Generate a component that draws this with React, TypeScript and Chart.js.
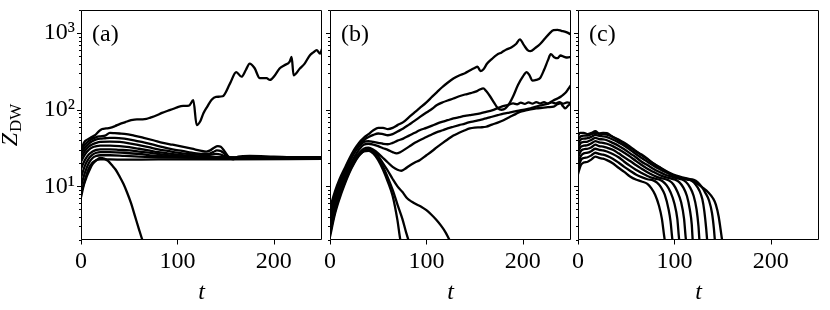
import React, { useEffect, useRef } from "react";
import { Chart, registerables } from "chart.js";
Chart.register(...registerables);

type P = [number, number];

const FONT = "'Liberation Serif', 'Times New Roman', serif";

// ---------- axis ticks ----------
const X_TICKS = [0, 100, 200];
const Y_MAJOR = [10, 100, 1000];
const Y_MINOR = [2, 3, 4, 5, 6, 7, 8, 9, 20, 30, 40, 50, 60, 70, 80, 90, 200, 300, 400, 500, 600, 700, 800, 900, 2000];
const Y_LABELS: Record<number, string> = { 10: "10¹", 100: "10²", 1000: "10³" };
const PANEL_LABELS = ["(a)", "(b)", "(c)"];

// ---------- panel (a) ----------
const aRise: P[] = [[0,28],[3,37],[7,41],[11,44],[15,47],[19,53],[22,56],[26,57],[30,58],[35,61],[40,65],[46,69],[52,73],[58,75],[64,75],[68,76],[72,79],[78,84],[84,91],[90,97],[96,103],[101,109],[106,112],[112,113],[116.5,133],[120,63],[124,72],[127,90],[131,110],[135.5,135],[140,147],[147,150],[154.5,219],[161,310],[166.5,270],[171,330],[175,400],[180,350],[185.5,258],[192.5,258],[196,245],[201,280],[206,345],[211,380],[216.5,425],[218.5,490],[220.5,282],[227,345],[232,400],[237.5,515],[241,560],[244.5,600],[248,540],[250,620]];
const aFall: P[] = [[0,7.2],[3,10.5],[6,13.5],[9,16.5],[12,19.5],[16,22],[20,23.5],[24,23],[28,21.5],[32,19],[36,16.5],[40,13.5],[44,10.8],[48,8.2],[52,6],[56,4.1],[60,2.8],[64,1.95],[66,1.7]];
const aL1: P[] = [[0,30],[4,35],[8,39],[12,42],[16,44],[20,45],[25,46],[30,50],[35,49.5],[40,49],[45,48.5],[55,46],[65,43],[75,40],[85,37],[95,35],[105,33],[115,31],[125,29],[130,28.5],[134,29.5],[138,32],[142,33.5],[145,33],[149,28.5],[153,24.5],[158,22.5],[163,24.5],[175,25],[200,24.5],[225,24],[250,24]];
const aL2: P[] = [[0,27],[4,32],[8,36],[12,39],[16,41],[20,42],[25,42.5],[30,43],[35,43],[45,42],[55,40],[65,37.5],[75,35],[85,32.5],[95,30.5],[105,29],[115,27.5],[125,26.5],[132,26.5],[137,28],[141,29.5],[145,29],[149,26.5],[153,24],[157,23],[163,24],[180,24],[250,23.5]];
const aL3: P[] = [[0,24],[4,29],[8,33],[12,35.5],[16,37],[20,38],[30,38.5],[40,38],[50,36.5],[60,34.5],[70,32.5],[80,30.5],[90,29],[100,27.5],[110,26.5],[120,26],[130,25.5],[140,26.5],[145,26],[150,24.5],[156,23],[162,23.5],[180,23.5],[250,23.5]];
const aL4: P[] = [[0,21],[4,26],[8,30],[12,32.5],[16,33.5],[20,34],[30,34],[40,33.5],[50,32.5],[60,31],[70,29.5],[80,28],[90,27],[100,26],[115,25],[130,24.5],[150,24],[250,23.5]];
const aL5: P[] = [[0,17],[4,22],[8,26],[12,28.5],[16,30],[20,30.5],[30,30.5],[40,30],[50,29.5],[60,28.5],[70,27.5],[85,26],[100,25],[120,24.2],[250,23.5]];
const aL6: P[] = [[0,13],[4,18.5],[8,23],[12,26],[16,27.5],[20,28],[30,28],[45,27.5],[60,26.5],[80,25],[100,24.3],[130,23.8],[250,23.2]];
const aL7: P[] = [[0,10],[4,15],[8,20],[12,23.5],[16,25],[20,25.5],[30,25.5],[45,25],[60,24.5],[80,24],[120,23.5],[250,23]];
const aL8: P[] = [[0,8],[4,12],[8,17],[12,20.5],[16,22],[20,22.5],[30,22.5],[45,22.3],[80,22.5],[150,22.5],[250,22.8]];

// ---------- panel (b) ----------
const bB1: P[] = [[0,5.2],[5,8.5],[10,12.5],[15,17],[20,23],[25,30],[30,37],[35,43],[40,48],[45,54],[50,58],[55,58],[60,56],[65,58],[70,63],[76,69],[82,80],[88,93],[93,105],[100,125],[106,148],[111,170],[116,195],[122,225],[128,255],[134,280],[140,300],[146,330],[150,350],[153,365],[156,320],[159,335],[163,400],[168,460],[173,520],[178,560],[183,610],[188,650],[193,720],[197,830],[201,700],[205,600],[208,580],[213,640],[218,720],[223,850],[228,1000],[232,1090],[236,1100],[240,1070],[245,1030],[250,960]];
const bB2: P[] = [[0,4.6],[5,7.8],[10,11.5],[15,16],[20,22],[25,28],[30,35],[35,40],[40,44],[45,47],[50,49],[55,48],[60,46.5],[65,48],[70,52],[76,57],[82,64],[88,72],[93,80],[100,92],[106,103],[111,115],[117,125],[122,132],[128,140],[134,150],[140,158],[146,165],[151,172],[155,182],[159,190],[162,175],[166,150],[170,125],[174,105],[178,100],[182,104],[186,120],[190,150],[195,210],[200,270],[204,310],[207,280],[210,240],[214,245],[218,260],[222,330],[226,440],[229,530],[233,480],[236,470],[239,510],[243,490],[246,480],[250,490]];
const bB3: P[] = [[0,4.0],[5,7],[10,10.5],[15,15],[20,20.5],[25,27],[30,33],[35,38],[40,39],[45,38],[50,37],[55,36],[60,35.5],[65,37],[70,39.5],[76,42],[82,46],[88,50],[93,54],[100,58],[106,62],[111,66],[117,70],[122,73],[128,77],[134,80],[140,83],[145,85],[150,87],[156,90],[162,94],[168,98],[174,105],[178,110],[184,115],[190,121],[194,118],[198,124],[202,119],[206,125],[210,120],[214,126],[218,121],[222,126],[226,120],[230,125],[234,121],[238,126],[242,120],[246,125],[250,122]];
const bB4: P[] = [[0,3.5],[5,6.3],[10,9.5],[15,13.5],[20,18.5],[25,24],[30,30],[35,35],[40,36],[45,35],[50,33.5],[55,31.5],[60,30],[65,28],[69,27],[73,28],[76,29.5],[82,33],[88,37],[93,40],[100,44],[106,48],[111,51],[117,54],[122,57],[128,60],[134,63],[140,66],[145,69],[150,71],[156,74],[162,77],[168,81],[174,85],[180,89],[186,92],[192,95],[197,98],[203,101],[208,104],[214,110],[220,115],[226,120],[232,133],[236,140],[240,150],[244,165],[247,185],[250,210]];
const bB5: P[] = [[0,3.0],[5,5.6],[10,8.6],[15,12.5],[20,17],[25,22],[30,27],[35,31],[40,32],[45,30],[50,27],[55,23.5],[60,20.5],[65,18],[70,16.5],[74,16],[78,17],[82,18.5],[88,20.5],[93,22],[100,25.5],[106,29],[111,32.5],[117,37],[122,41],[128,46],[134,50],[140,54],[145,57],[150,58.5],[156,59],[162,60],[168,64],[174,68],[180,73],[186,80],[192,87],[197,94],[203,98],[208,101],[214,104],[220,106],[226,108],[232,110],[236,118],[239,121],[242,110],[244,104],[247,113],[250,121]];
const bF1: P[] = [[0,2.7],[5,5],[10,8],[15,11.5],[20,16],[25,21],[30,26],[35,29],[40,29.5],[45,27],[50,22],[55,16.5],[60,11.5],[65,7.5],[70,3.6],[73,2.0],[75,1.7]];
const bF2: P[] = [[0,2.4],[5,4.6],[10,7.5],[15,11],[20,15.5],[25,20.5],[30,25.5],[35,28.5],[40,29],[45,27],[50,23],[55,18],[60,13],[65,9],[70,5.8],[75,3.8],[79,2.5],[82,1.9],[84,1.7]];
const bF3: P[] = [[0,2.2],[5,4.3],[10,7],[15,10.5],[20,15],[25,20],[30,25],[35,29],[40,31],[45,29],[50,25],[55,20],[60,16],[65,12.5],[70,10],[75,8.5],[80,7],[85,6.3],[90,5.8],[95,5.4],[100,4.9],[105,4.3],[110,3.7],[115,3.1],[120,2.5],[124,2.0],[126,1.8]];

// ---------- panel (c) ----------
const cC1: P[] = [[0,14.5],[3,19],[6,20.5],[10,21],[14,22.5],[18,24.5],[22,23.5],[26,23],[30,22],[36,20],[42,17.5],[48,15.5],[54,13.5],[60,12.3],[66,11.6],[72,10.8],[76,9.5],[80,7.8],[84,5.6],[87,3.8],[90,2.0],[91,1.8]];
const cC2: P[] = [[0,17],[3,22],[6,23.5],[10,24],[14,25.5],[18,27.5],[22,26.5],[26,26],[30,25],[36,23],[42,20.5],[48,18],[54,16],[60,14.3],[66,13.2],[72,12.4],[78,12.0],[82,11.2],[86,9.8],[90,7.8],[94,5.0],[96,3.5],[98,2.0],[99,1.8]];
const cC3: P[] = [[0,20],[3,25],[6,27],[10,27.5],[14,29],[18,31],[22,30],[26,29.5],[30,28.5],[36,26.5],[42,24],[48,21],[54,18.5],[60,16.5],[66,15],[72,13.7],[78,12.8],[84,12.3],[88,11.6],[92,10.3],[96,8.4],[100,6],[103,3.8],[105,2.0],[106,1.8]];
const cC4: P[] = [[0,24],[3,29],[6,30.5],[10,31],[14,32.5],[18,35],[22,33.5],[26,33],[30,32],[36,30],[42,27],[48,24],[54,21.5],[60,19],[66,17],[72,15.3],[78,14],[84,13],[90,12.5],[95,11.8],[99,10.6],[103,8.6],[107,6.2],[110,3.8],[112,2.0],[113,1.8]];
const cC5: P[] = [[0,28],[3,33],[6,34],[10,34.5],[14,36.5],[18,39],[22,37.5],[26,37],[30,36],[36,33.5],[42,30.5],[48,27.5],[54,24.5],[60,21.5],[66,19],[72,17],[78,15.5],[84,14.2],[90,13.3],[96,12.7],[101,12.2],[105,11.4],[109,9.8],[113,7.5],[116,5],[118,3.2],[119,2.0],[120,1.8]];
const cC6: P[] = [[0,32],[3,37],[6,38],[10,38.5],[14,40.5],[18,43],[22,41.5],[26,41],[30,40],[36,37],[42,34],[48,30.5],[54,27],[60,24],[66,21],[72,19],[78,17],[84,15.5],[90,14.3],[96,13.5],[102,12.8],[108,12.3],[112,11.4],[116,9.8],[120,7.5],[123,5],[125,3],[126,2.0],[127,1.8]];
const cC7: P[] = [[0,36],[3,41],[6,42],[10,42.5],[14,44.5],[18,47],[22,45.5],[26,45],[30,44],[36,41],[42,37.5],[48,34],[54,30],[60,26.5],[66,23.5],[72,21],[78,18.8],[84,17],[90,15.5],[96,14.3],[102,13.4],[108,12.8],[114,12.4],[118,11.8],[122,10.6],[126,8.8],[129,6.8],[131,4.8],[133,2.8],[134,2.0],[135,1.8]];
const cC8: P[] = [[0,41],[3,45],[6,46],[10,46],[14,48],[18,50],[22,48.5],[26,48.5],[30,47.5],[36,44.5],[42,41],[48,37],[54,33],[60,29],[66,25.5],[72,22.5],[78,20],[84,18],[90,16.2],[96,14.8],[102,13.8],[108,13.1],[114,12.6],[120,12.2],[124,11.4],[128,10],[132,8.3],[136,6.5],[139,4.5],[141,2.8],[142,2.0],[143,1.8]];
const cC9: P[] = [[0,45],[2,50],[6,50],[10,48],[14,50],[18,52.5],[22,49],[26,50],[30,49.5],[36,44],[42,40],[48,36],[54,32],[60,28.5],[66,26],[72,23],[78,20],[84,17.9],[90,16],[96,14.5],[102,13.3],[108,12.6],[114,12.2],[118,12],[124,10.8],[130,9.5],[135,8.4],[140,7],[143,5.8],[146,4],[148,2.7],[149.5,2.0],[150.5,1.8]];

const PANEL_A = [aRise, aFall, aL1, aL2, aL3, aL4, aL5, aL6, aL7, aL8];
const PANEL_B = [bB1, bB2, bB3, bB4, bB5, bF1, bF2, bF3];
const PANEL_C = [cC1, cC2, cC3, cC4, cC5, cC6, cC7, cC8, cC9];

const decor = {
  id: "decor",
  afterDraw(chart: any, _args: any, opts: any) {
    const ctx = chart.ctx as CanvasRenderingContext2D;
    const { left, right, top, bottom } = chart.chartArea;
    const xs = chart.scales.x;
    const ys = chart.scales.y;
    ctx.save();
    ctx.strokeStyle = "#000";
    ctx.lineWidth = 1;
    const L = Math.round(left) + 0.5;
    const R = Math.round(right) - 0.5;
    const T = Math.round(top) + 0.5;
    const B = Math.round(bottom) - 0.5;
    ctx.beginPath();
    ctx.rect(L, T, R - L, B - T);
    // y ticks
    for (const v of Y_MAJOR) {
      const py = Math.round(ys.getPixelForValue(v)) + 0.5;
      ctx.moveTo(L - 4.5, py);
      ctx.lineTo(L, py);
    }
    for (const v of Y_MINOR) {
      const py = Math.round(ys.getPixelForValue(v)) + 0.5;
      ctx.moveTo(L - 2.5, py);
      ctx.lineTo(L, py);
    }
    for (const v of X_TICKS) {
      const px = Math.round(xs.getPixelForValue(v)) + 0.5;
      ctx.moveTo(px, B);
      ctx.lineTo(px, B + 5);
    }
    ctx.stroke();
    // panel label
    ctx.fillStyle = "#000";
    ctx.font = `24px ${FONT}`;
    ctx.textAlign = "left";
    ctx.textBaseline = "alphabetic";
    ctx.fillText(opts.label, left + 11, top + 31);
    // y title
    if (opts.ylabel) {
      ctx.translate(17, (top + bottom) / 2);
      ctx.rotate(-Math.PI / 2);
      ctx.font = `italic 24px ${FONT}`;
      const wz = ctx.measureText("Z").width;
      ctx.font = `17px ${FONT}`;
      const wd = ctx.measureText("DW").width;
      const start = -(wz + wd + 1) / 2;
      ctx.font = `italic 24px ${FONT}`;
      ctx.fillText("Z", start, 0);
      ctx.font = `17px ${FONT}`;
      ctx.fillText("DW", start + wz + 1, 4);
    }
    ctx.restore();
  },
};

function makeConfig(series: P[][], left: number, right: number, label: string, showY: boolean): any {
  return {
    type: "line",
    data: {
      datasets: series.map((s) => ({
        data: s.map(([x, y]) => ({ x, y })),
        borderColor: "#000",
        borderWidth: 2.3,
        pointRadius: 0,
        fill: false,
        cubicInterpolationMode: "monotone",
        borderJoinStyle: "round",
        borderCapStyle: "round",
        clip: 0,
      })),
    },
    options: {
      responsive: false,
      animation: false,
      events: [],
      layout: { padding: { left: showY ? 0 : left, right: 830 - right, top: 10, bottom: 0 } },
      plugins: {
        legend: { display: false },
        tooltip: { enabled: false },
        decor: { label, ylabel: showY },
      },
      scales: {
        x: {
          type: "linear",
          min: 0,
          max: 250,
          grid: { display: false, drawTicks: false },
          border: { display: false },
          ticks: { font: { family: FONT, size: 24 }, color: "#000", padding: 7, maxRotation: 0, autoSkip: false },
          afterBuildTicks: (s: any) => {
            s.ticks = X_TICKS.map((v) => ({ value: v }));
          },
          afterFit: (s: any) => {
            s.height = 70;
            s.paddingLeft = 0;
            s.paddingRight = 0;
          },
          title: {
            display: true,
            text: "t",
            color: "#000",
            font: { family: FONT, size: 24, style: "italic" },
            padding: { top: 0, bottom: 3 },
          },
        },
        y: {
          type: "logarithmic",
          min: 2,
          max: 2000,
          grid: { display: false, drawTicks: false },
          border: { display: false },
          ticks: {
            display: showY,
            autoSkip: false,
            color: "#000",
            padding: 6,
            font: { family: FONT, size: 24 },
            callback: (v: number) => Y_LABELS[v] ?? "",
          },
          afterBuildTicks: (s: any) => {
            s.ticks = [...Y_MINOR, ...Y_MAJOR].sort((a, b) => a - b).map((v) => ({ value: v }));
          },
          afterFit: (s: any) => {
            s.width = showY ? 81 : 0;
            s.paddingTop = 0;
            s.paddingBottom = 0;
          },
        },
      },
    },
    plugins: [decor],
  };
}

function Panel({ series, left, right, label, showY }: { series: P[][]; left: number; right: number; label: string; showY: boolean }) {
  const ref = useRef<HTMLCanvasElement | null>(null);
  useEffect(() => {
    if (!ref.current) return;
    const chart = new Chart(ref.current, makeConfig(series, left, right, label, showY));
    return () => chart.destroy();
  }, []);
  return <canvas ref={ref} width={830} height={310} style={{ position: "absolute", left: 0, top: 0, width: 830, height: 310 }} />;
}

export default function App() {
  return (
    <div style={{ position: "fixed", left: 0, top: 0, width: 830, height: 310, background: "#fff", overflow: "hidden" }}>
      <Panel series={PANEL_A} left={81} right={322} label={PANEL_LABELS[0]} showY={true} />
      <Panel series={PANEL_B} left={330} right={571} label={PANEL_LABELS[1]} showY={false} />
      <Panel series={PANEL_C} left={578} right={819} label={PANEL_LABELS[2]} showY={false} />
    </div>
  );
}
